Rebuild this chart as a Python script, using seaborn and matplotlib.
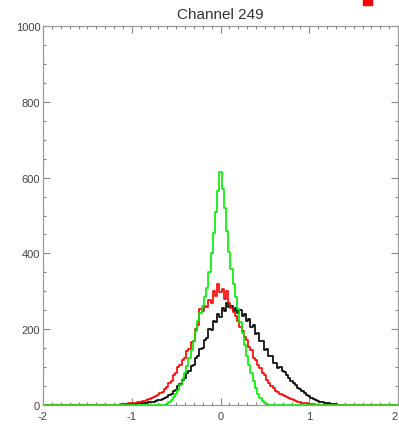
import numpy as np
import pandas as pd
import matplotlib
matplotlib.use("Agg")
import matplotlib.pyplot as plt
import seaborn as sns
from matplotlib.ticker import MultipleLocator
from matplotlib.patches import Rectangle

title = "Channel 249"
x_ticks = [-2, -1, 0, 1, 2]
x_tick_labels = ["-2", "-1", "0", "1", "2"]
bin_width = 0.025
x_start = -1.2  # centre of the first value in each list below

black_counts = [0, 0, 0, 1, 1, 1, 2, 2, 2, 3, 3, 4, 4, 5, 5, 6, 7, 8, 9, 11,
                12, 14, 16, 19, 22, 27, 30, 36, 40, 50, 56, 66, 72, 85, 90, 104, 106, 124, 128, 148,
                150, 172, 178, 200, 198, 222, 218, 240, 232, 255, 248, 268, 258, 262, 248, 255, 242, 250, 236, 240,
                222, 226, 205, 210, 188, 190, 168, 170, 145, 148, 128, 130, 112, 112, 98, 100, 90, 88, 78, 72,
                64, 58, 52, 46, 41, 36, 31, 27, 23, 19, 16, 13, 11, 9, 7, 6, 5, 4, 3, 2,
                2, 1, 1, 1, 1, 0]
red_counts = [0, 1, 1, 2, 2, 3, 3, 4, 4, 5, 6, 7, 8, 10, 11, 13, 15, 18, 20, 24,
              27, 31, 35, 42, 48, 58, 64, 78, 84, 100, 106, 120, 124, 142, 148, 165, 170, 200, 212, 252,
              248, 262, 258, 278, 270, 300, 288, 318, 298, 305, 280, 300, 270, 255, 245, 235, 222, 205, 195, 180,
              172, 152, 145, 125, 120, 105, 98, 84, 78, 65, 58, 50, 44, 38, 34, 30, 27, 23, 20, 18,
              16, 13, 11, 9, 8, 6, 5, 4, 3, 2, 2, 1, 1, 0]
green_counts = [0, 0, 0, 0, 0, 0, 0, 0, 0, 0, 0, 0, 0, 0, 0, 0, 0, 0, 0, 0,
                0, 0, 0, 1, 3, 7, 12, 20, 30, 40, 52, 68, 85, 104, 125, 146, 170, 196, 222, 242,
                262, 286, 310, 352, 400, 455, 510, 565, 615, 570, 520, 460, 405, 360, 320, 285, 252, 220, 190, 158,
                130, 106, 85, 64, 45, 30, 18, 10, 5, 2, 1, 0]

# full grid of bin centres covering -2 .. 2
centres = np.round(np.arange(-2.05, 2.05 + 1e-9, bin_width), 4)

def full(counts):
    arr = np.zeros(len(centres))
    i0 = int(round((x_start - centres[0]) / bin_width))
    arr[i0:i0 + len(counts)] = counts
    return arr

df = pd.DataFrame({"x": centres,
                   "black": full(black_counts),
                   "red": full(red_counts),
                   "green": full(green_counts)})

sns.set_style("ticks")
plt.rcParams['font.family'] = ['Liberation Sans', 'DejaVu Sans']
plt.rcParams['axes.unicode_minus'] = False

fig = plt.figure(figsize=(3.99, 4.27), dpi=100)
ax = fig.add_axes([43 / 399, 1 - 406 / 427, 355 / 399, 379 / 427])

for col, colr in [("black", "black"), ("red", "#ff0000"), ("green", "#00ee00")]:
    sns.lineplot(data=df, x="x", y=col, drawstyle="steps-mid", estimator=None,
                 color=colr, linewidth=1.2, ax=ax)

ax.set_xlim(-2, 2)
ax.set_ylim(0, 1000)
ax.set_xlabel("")
ax.set_ylabel("")
ax.set_title(title, fontsize=11, color="#333333", pad=6)
ax.set_xticks(x_ticks)
labels = ax.set_xticklabels(x_tick_labels)
labels[-1].set_horizontalalignment("right")
ax.xaxis.set_minor_locator(MultipleLocator(0.1))
ax.yaxis.set_major_locator(MultipleLocator(200))
ax.yaxis.set_minor_locator(MultipleLocator(50))
ax.tick_params(which="both", direction="in", top=True, right=True, color="#888888",
               labelsize=8, labelcolor="#444444", width=0.8)
ax.tick_params(axis="x", which="major", length=5, pad=4)
ax.tick_params(axis="y", which="major", length=5, pad=2)
ax.tick_params(which="minor", length=2.5)
for s in ax.spines.values():
    s.set_color("#999999")
    s.set_linewidth(0.9)

fig.patches.append(Rectangle((363 / 399, 1 - 6 / 427), 9 / 399, 6 / 427,
                             transform=fig.transFigure, color="#ff0000", zorder=5))

fig.savefig("out.png", dpi=100)
